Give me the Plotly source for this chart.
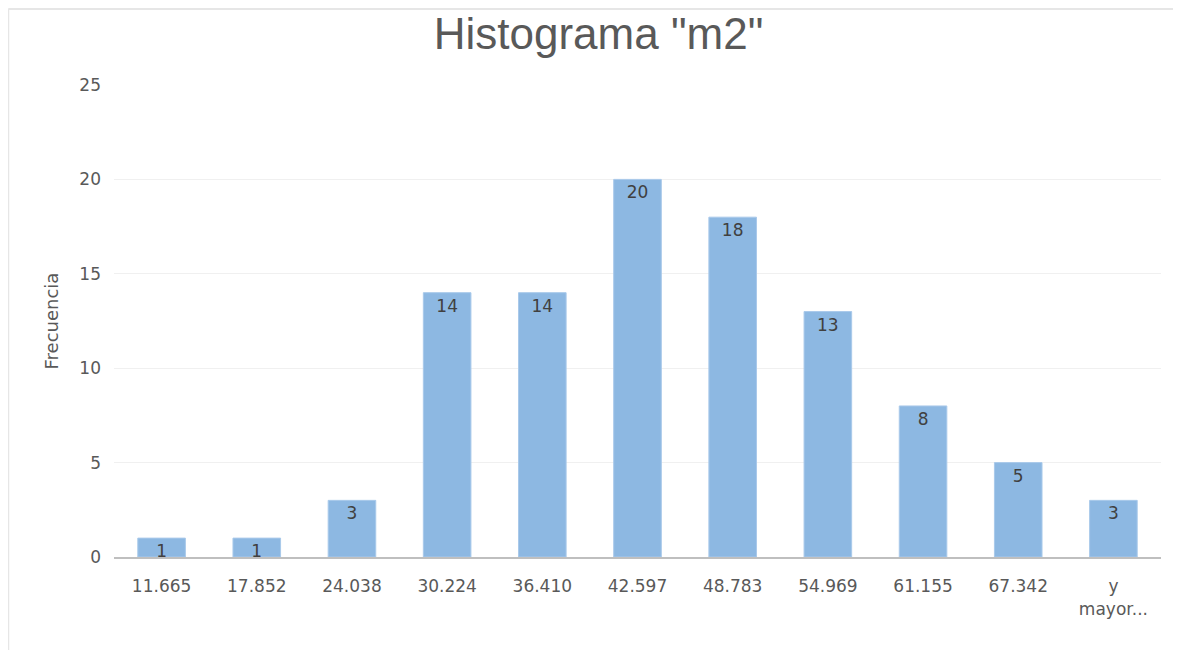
import plotly.graph_objects as go

categories = ["11.665", "17.852", "24.038", "30.224", "36.410", "42.597",
              "48.783", "54.969", "61.155", "67.342", "y<br>mayor..."]
frequencies = [1, 1, 3, 14, 14, 20, 18, 13, 8, 5, 3]
y_ticks = [0, 5, 10, 15, 20, 25]

fig = go.Figure(go.Bar(
    x=categories, y=frequencies,
    marker=dict(color="#8db8e2", line=dict(color="#a9c9ea", width=1)),
    text=[str(v) for v in frequencies],
    textposition="inside", insidetextanchor="end", textangle=0,
    textfont=dict(family="DejaVu Sans", size=17, color="#404040"),
    constraintext="none",
))

fig.update_layout(
    width=1181, height=650,
    margin=dict(l=106, r=28, t=77, b=101),
    paper_bgcolor="white", plot_bgcolor="white",
    bargap=0.5,
    showlegend=False,
    title=dict(text='Histograma "m2"', x=0.5, xanchor="center",
               xref="container", y=1 - 26 / 650, yanchor="middle",
               font=dict(family="Liberation Sans", size=44, color="#595959")),
    font=dict(family="DejaVu Sans", color="#595959"),
    xaxis=dict(showline=True, linecolor="#bfbfbf", linewidth=2, ticks="",
               ticklabelstandoff=13,
               tickfont=dict(size=17, color="#595959"), showgrid=False),
    yaxis=dict(range=[0, 25], tickvals=y_ticks, showgrid=True, gridcolor="#f0f0f0",
               gridwidth=1, zeroline=False, ticks="", ticklabelstandoff=12,
               tickfont=dict(size=17, color="#595959"),
               title=dict(text="Frecuencia", font=dict(size=18, color="#595959"), standoff=16)),
    shapes=[
        dict(type="line", xref="paper", yref="paper", x0=-0.101, x1=1.05, y0=1.161, y1=1.161,
             line=dict(color="#e6e6e6", width=2)),
        dict(type="line", xref="paper", yref="paper", x0=-0.101, x1=-0.101, y0=-0.2, y1=1.161,
             line=dict(color="#e6e6e6", width=2)),
    ],
)

fig.write_html("out.html")
